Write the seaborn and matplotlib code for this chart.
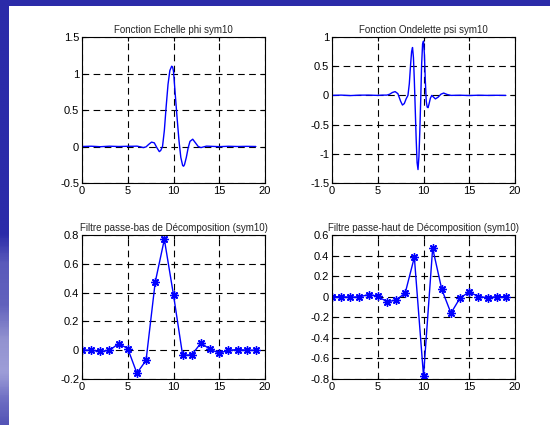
import numpy as np
import pandas as pd
import matplotlib
matplotlib.use("Agg")
import matplotlib.pyplot as plt
from matplotlib.colors import LinearSegmentedColormap
import seaborn as sns

# scaling function phi (sym10)
phi_x = [0, 1, 2, 3, 4, 5, 5.5, 6.0, 6.4, 6.7, 7.0, 7.3, 7.6, 7.9, 8.2, 8.45, 8.6,
         8.8, 9.0, 9.2, 9.4, 9.6, 9.8, 9.9, 10.0, 10.2, 10.4, 10.6, 10.8, 11.0,
         11.1, 11.2, 11.4, 11.6, 11.8, 12.1, 12.4, 12.7, 13.0, 13.3, 13.6, 14,
         15, 16, 17, 18, 19]
phi_y = [0, 0.004, -0.003, 0.004, 0, 0.003, 0.003, 0.005, -0.005, -0.015, -0.005,
         0.03, 0.06, 0.05, -0.02, -0.07, -0.055, 0.0, 0.22, 0.55, 0.85, 1.04,
         1.10, 1.09, 1.03, 0.70, 0.38, 0.08, -0.15, -0.26, -0.27, -0.25, -0.15,
         -0.02, 0.07, 0.10, 0.05, 0.0, -0.015, -0.005, 0.005, 0.003, -0.002,
         0.003, 0, 0.002, 0]

# wavelet function psi (sym10)
psi_x = [0, 1, 2, 3, 4, 5, 5.5, 6.0, 6.3, 6.6, 6.9, 7.2, 7.5, 7.7, 7.9, 8.1,
         8.3, 8.45, 8.6, 8.7, 8.8, 8.9, 9.0, 9.1, 9.2, 9.3, 9.4, 9.5, 9.6, 9.7,
         9.8, 9.9, 10.0, 10.1, 10.2, 10.3, 10.4, 10.5, 10.6, 10.75, 10.9, 11.1,
         11.3, 11.6, 11.9, 12.2, 12.6, 13.0, 14, 15, 16, 17, 18, 19]
psi_y = [0, 0.005, -0.003, 0.004, 0.005, 0, 0.005, 0.005, 0.02, 0.05, 0.065,
         0.03, -0.1, -0.165, -0.14, -0.06, 0.0, 0.2, 0.55, 0.75, 0.82, 0.65,
         0.25, -0.25, -0.75, -1.15, -1.27, -1.05, -0.6, -0.05, 0.55, 0.88, 0.93,
         0.7, 0.25, -0.1, -0.2, -0.21, -0.15, -0.05, 0.0, -0.03, -0.06, -0.03,
         0.02, 0.04, 0.015, 0.0, 0.003, -0.002, 0.003, 0, 0.002, 0]

# decomposition filters (sym10), 20 taps
taps = list(range(20))
lo_d = [0.0008, 0.0001, -0.0086, -0.0015, 0.0459, 0.0116, -0.1595, -0.0709,
        0.4717, 0.7695, 0.3838, -0.0355, -0.0320, 0.0500, 0.0058, -0.0204,
        -0.0008, 0.0046, 0.0001, -0.0005]
hi_d = [0.0005, 0.0001, -0.0046, -0.0008, 0.0204, 0.0058, -0.0500, -0.0320,
        0.0355, 0.3838, -0.7695, 0.4717, 0.0709, -0.1595, -0.0116, 0.0459,
        0.0015, -0.0086, -0.0001, 0.0008]

titles = ["Fonction Echelle phi sym10", "Fonction Ondelette psi sym10",
          "Filtre passe-bas de Décomposition (sym10)",
          "Filtre passe-haut de Décomposition (sym10)"]

sns.set_style("ticks")
plt.rcParams['font.family'] = ['Liberation Sans', 'DejaVu Sans']

fig = plt.figure(figsize=(5.5, 4.25), dpi=100)
W, H = 550, 425

# slide frame: blue top bar and shaded left bar
top = fig.add_axes([0, 1 - 6 / H, 1, 6 / H])
top.set_facecolor("#2b2ba9")
top.set_xticks([]); top.set_yticks([])
for s in top.spines.values():
    s.set_visible(False)
side = fig.add_axes([0, 0, 9 / W, 1])
cmap = LinearSegmentedColormap.from_list(
    "bar", [(0, "#2b2ba9"), (0.55, "#2b2ba9"), (0.62, "#5a5abb"),
            (0.72, "#6262bd"), (0.8, "#9292d0"), (0.88, "#9e9ed8"),
            (0.94, "#7070c4"), (1, "#5454b6")])
side.imshow(np.linspace(0, 1, 200).reshape(-1, 1), aspect="auto", cmap=cmap)
side.set_xticks([]); side.set_yticks([])
for s in side.spines.values():
    s.set_visible(False)


def box(l, t, r, b):
    return [l / W, 1 - b / H, (r - l) / W, (b - t) / H]


axes = [fig.add_axes(box(82, 37, 265, 183)), fig.add_axes(box(332, 37, 515, 183)),
        fig.add_axes(box(82, 235, 265, 379)), fig.add_axes(box(332, 235, 515, 379))]

star = (8, 2, 0)  # asterisk like matlab '*'
sns.lineplot(x=phi_x, y=phi_y, ax=axes[0], color="blue", linewidth=1, sort=False)
sns.lineplot(x=psi_x, y=psi_y, ax=axes[1], color="blue", linewidth=1, sort=False)
sns.lineplot(x=taps, y=lo_d, ax=axes[2], color="blue", linewidth=1, marker=star,
             markersize=6, markeredgecolor="blue", markeredgewidth=1)
sns.lineplot(x=taps, y=hi_d, ax=axes[3], color="blue", linewidth=1, marker=star,
             markersize=6, markeredgecolor="blue", markeredgewidth=1)

ylims = [(-0.5, 1.5), (-1.5, 1), (-0.2, 0.8), (-0.8, 0.6)]
yticks = [[-0.5, 0, 0.5, 1, 1.5], [-1.5, -1, -0.5, 0, 0.5, 1],
          [-0.2, 0, 0.2, 0.4, 0.6, 0.8],
          [-0.8, -0.6, -0.4, -0.2, 0, 0.2, 0.4, 0.6]]
for ax, t, yl, yt in zip(axes, titles, ylims, yticks):
    ax.set_xlim(0, 20)
    ax.set_ylim(*yl)
    ax.set_xticks([0, 5, 10, 15, 20])
    ax.set_yticks(yt)
    ax.set_yticklabels([f"{v:g}" for v in yt])
    ax.grid(True, color="black", linestyle=(0, (6, 4)), linewidth=0.8)
    ax.tick_params(direction="in", length=3, width=0.8, labelsize=8,
                   top=True, right=True, pad=2, colors="black")
    for s in ax.spines.values():
        s.set_visible(True)
        s.set_color("black")
        s.set_linewidth(0.8)
    ax.set_title(t, fontsize=7, pad=3)
    ax.set_xlabel("")
    ax.set_ylabel("")

fig.savefig("out.png", dpi=100)
